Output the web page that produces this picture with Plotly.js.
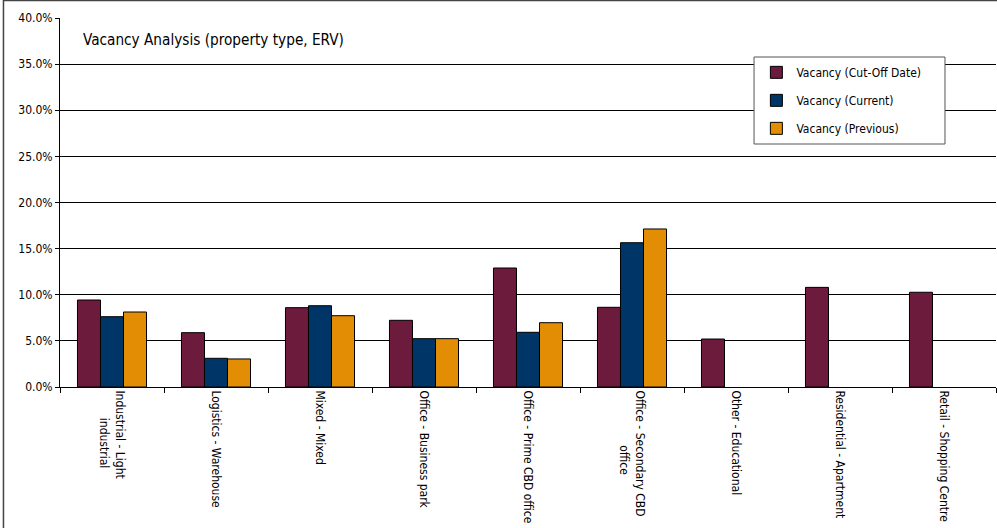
<!DOCTYPE html>
<html>
<head>
<meta charset="utf-8">
<script src="https://cdn.plot.ly/plotly-3.0.1.min.js"></script>
<style>html,body{margin:0;padding:0;background:#fff;}#chart{width:997px;height:528px;}</style>
</head>
<body>
<div id="chart"></div>
<script>
const categories = [
  "Industrial - Light<br>\u00a0\u00a0\u00a0\u00a0\u00a0\u00a0\u00a0\u00a0industrial",
  "Logistics - Warehouse",
  "Mixed - Mixed",
  "Office - Business park",
  "Office - Prime CBD office",
  "Office - Secondary CBD<br>\u00a0\u00a0\u00a0\u00a0\u00a0\u00a0\u00a0\u00a0\u00a0\u00a0\u00a0\u00a0\u00a0\u00a0\u00a0\u00a0office",
  "Other - Educational",
  "Residential - Apartment",
  "Retail - Shopping Centre"
];
const cutOff   = [0.0943, 0.0589, 0.0860, 0.0723, 0.1290, 0.0864, 0.0520, 0.1080, 0.1027];
const current  = [0.0762, 0.0311, 0.0881, 0.0524, 0.0593, 0.1564, null, null, null];
const previous = [0.0813, 0.0304, 0.0773, 0.0524, 0.0697, 0.1713, null, null, null];
const seriesNames = ["Vacancy (Cut-Off Date)", "Vacancy (Current)", "Vacancy (Previous)"];
const colors = ["#6d1b3c", "#003567", "#e28d04"];

const FONT = "'DejaVu Sans Condensed', 'DejaVu Sans', sans-serif";
const vals = [cutOff, current, previous];
const traces = vals.map((v, i) => ({
  type: "bar",
  x: categories,
  y: v,
  name: seriesNames[i],
  legendgroup: "g" + i,
  marker: {color: colors[i], line: {color: "#000", width: 1}},
  hoverinfo: "x+y"
}));

const layout = {
  width: 997, height: 528,
  margin: {l: 60, r: 1, t: 18, b: 141},
  paper_bgcolor: "#fff", plot_bgcolor: "#fff",
  font: {family: FONT, size: 12, color: "#000"},
  barmode: "group", bargap: 0.336, bargroupgap: 0,
  showlegend: true,
  legend: {
    x: 0.744, y: 0.892, xanchor: "left", yanchor: "top",
    bgcolor: "rgba(0,0,0,0)", borderwidth: 0,
    traceorder: "grouped", tracegroupgap: 9,
    font: {family: FONT, size: 12, color: "#000"}
  },
  xaxis: {
    type: "category",
    showline: true, linecolor: "#000", linewidth: 1,
    ticks: "outside", tickson: "boundaries", ticklen: 5, tickcolor: "#000",
    tickangle: 90, showgrid: false,
    tickfont: {family: FONT, size: 12, color: "#000"}
  },
  yaxis: {
    range: [0, 0.4], dtick: 0.05, tickformat: ".1%",
    showline: true, linecolor: "#000", linewidth: 1,
    ticks: "outside", ticklen: 4, tickcolor: "#000",
    showgrid: true, gridcolor: "#000", gridwidth: 1, zeroline: false,
    tickfont: {family: FONT, size: 12, color: "#000"}
  },
  annotations: [{
    text: "Vacancy Analysis (property type, ERV)",
    xref: "paper", yref: "paper", x: 0.0225, y: 0.94,
    xanchor: "left", yanchor: "middle", showarrow: false,
    font: {family: FONT, size: 15.2, color: "#000"}
  }],
  shapes: [
    {type: "rect", xref: "paper", yref: "paper", x0: 0.7415, x1: 0.9455, y0: 0.6585, y1: 0.8943,
     line: {color: "#555", width: 1}, fillcolor: "#fff", layer: "above"},
    {type: "rect", xref: "paper", yref: "paper", x0: -0.0604, x1: 1.2, y0: -0.6, y1: 1.0474,
     line: {color: "#444", width: 1.5}, fillcolor: "rgba(0,0,0,0)", layer: "above"}
  ]
};

Plotly.newPlot("chart", traces, layout, {displayModeBar: false, staticPlot: true});
</script>
</body>
</html>
